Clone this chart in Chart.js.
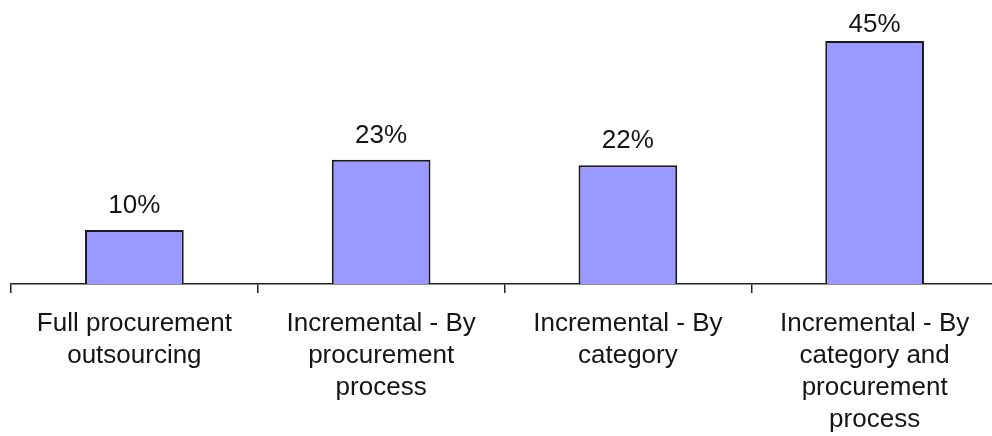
<!DOCTYPE html>
<html>
<head>
<meta charset="utf-8">
<script src="https://cdn.jsdelivr.net/npm/chart.js@4/dist/chart.umd.min.js"></script>
<style>
  html, body { margin: 0; padding: 0; overflow: hidden; background: #fff; }
  #wrap { width: 1000px; height: 436px; }
</style>
</head>
<body>
<div id="wrap"><canvas id="c" width="1000" height="436"></canvas></div>
<script>
const categories = [
  ["Full procurement", "outsourcing"],
  ["Incremental - By", "procurement", "process"],
  ["Incremental - By", "category"],
  ["Incremental - By", "category and", "procurement", "process"]
];
const values = [10, 23, 22, 45];
const valueLabels = ["10%", "23%", "22%", "45%"];

const valueLabelPlugin = {
  id: 'valueLabels',
  afterDatasetsDraw(chart) {
    const ctx = chart.ctx;
    const meta = chart.getDatasetMeta(0);
    ctx.save();
    ctx.font = '26px "Liberation Sans", Arial, sans-serif';
    ctx.fillStyle = '#151515';
    ctx.textAlign = 'center';
    ctx.textBaseline = 'alphabetic';
    meta.data.forEach((el, i) => {
      ctx.fillText(valueLabels[i], el.x, Math.max(el.y - 17, 32));
    });
    ctx.restore();
  }
};

new Chart(document.getElementById('c'), {
  type: 'bar',
  data: {
    labels: categories,
    datasets: [{
      data: values,
      backgroundColor: '#9999FF',
      borderColor: '#1a1a1a',
      borderWidth: 2,
      barPercentage: 0.4,
      categoryPercentage: 1.0
    }]
  },
  options: {
    responsive: false,
    animation: false,
    layout: { padding: { top: 14, left: 11, right: 2, bottom: 0 } },
    plugins: { legend: { display: false }, tooltip: { enabled: false } },
    scales: {
      y: { display: false, min: 0, max: 50 },
      x: {
        offset: true,
        border: { display: true, color: '#222', width: 1.5 },
        grid: { offset: true, drawOnChartArea: false, drawTicks: true, tickLength: 9, color: '#222', lineWidth: 1.5 },
        ticks: {
          color: '#151515',
          padding: 15,
          maxRotation: 0,
          autoSkip: false,
          font: { family: '"Liberation Sans", Arial, sans-serif', size: 26, lineHeight: 1.23 }
        },
        afterFit(scale) { scale.height = 152; }
      }
    }
  },
  plugins: [valueLabelPlugin]
});
</script>
</body>
</html>
